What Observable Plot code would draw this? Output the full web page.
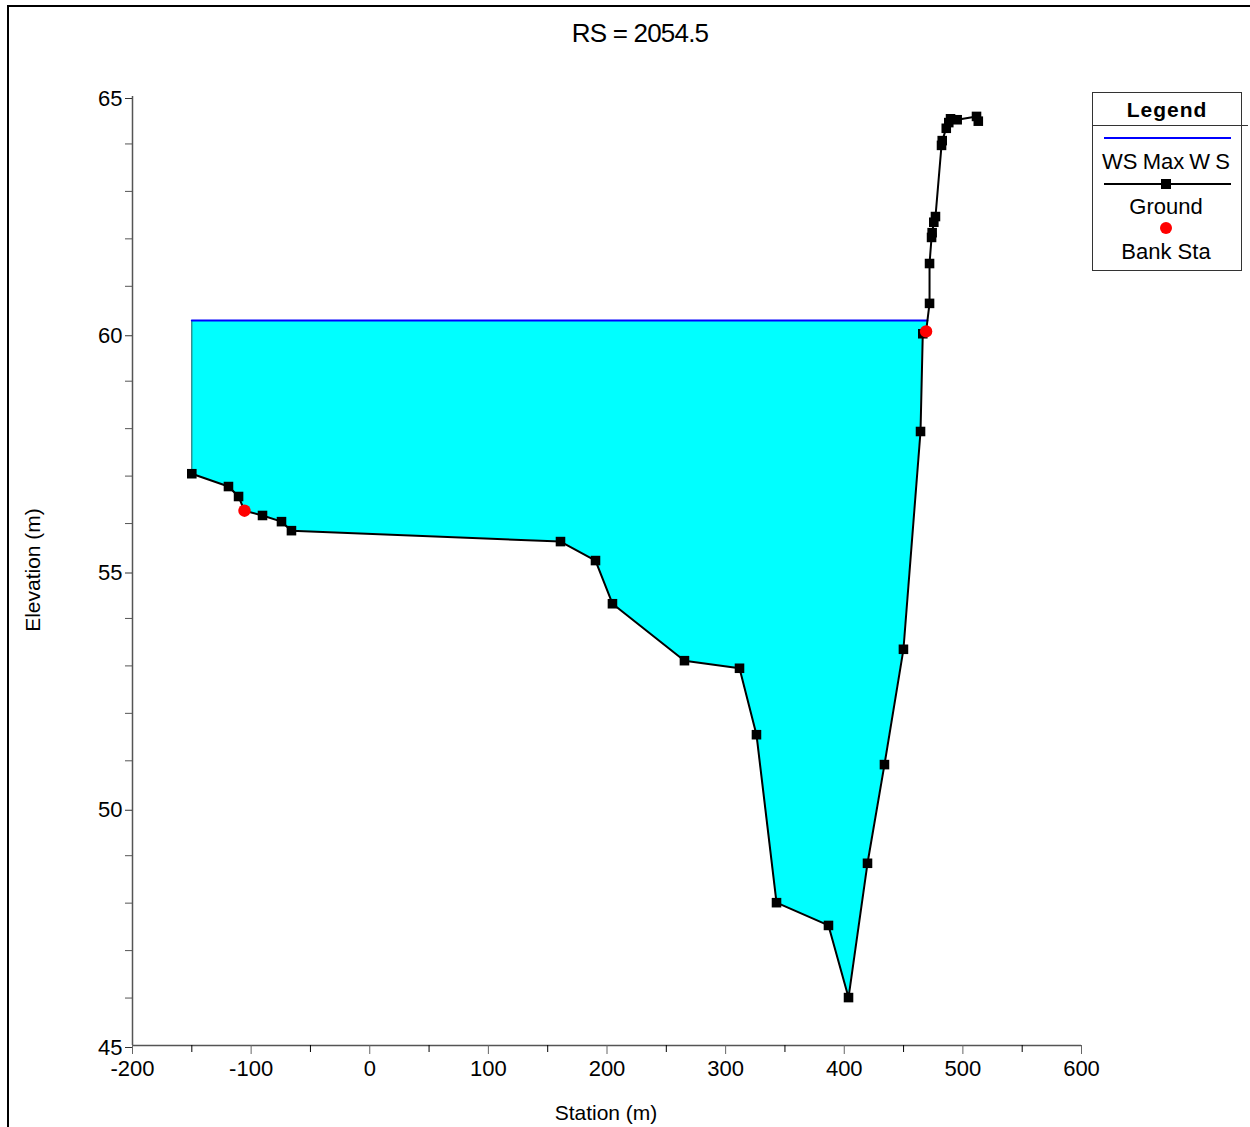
<!DOCTYPE html>
<html>
<head>
<meta charset="utf-8">
<script src="https://cdn.jsdelivr.net/npm/d3@7"></script>
<script src="https://cdn.jsdelivr.net/npm/@observablehq/plot@0.6"></script>
<style>
  html, body { margin: 0; padding: 0; background: #fff; }
  body { font-family: "Liberation Sans", Arial, sans-serif; }
  #wrap { position: relative; width: 1250px; height: 1127px; overflow: hidden; }
  #frame { position: absolute; left: 7px; top: 5px; right: -5px; bottom: -5px; border-top: 2px solid #000; border-left: 2px solid #000; pointer-events: none; }
  #chart { position: absolute; left: 0; top: 0; }
  .txt { position: absolute; color: #000; white-space: nowrap; }
  #title { left: 540px; width: 200px; top: 18px; text-align: center; font-size: 26px; letter-spacing: -0.8px; }
  #xlabel { left: 506px; width: 200px; top: 1101px; text-align: center; font-size: 21px; }
  #ylabel { left: 33px; top: 570px; font-size: 21px; transform: translate(-50%, -50%) rotate(-90deg); }
  #legend { position: absolute; left: 1092px; top: 92px; }
</style>
</head>
<body>
<div id="wrap">
  <div id="chart"></div>
  <div id="frame"></div>
  <div id="title" class="txt">RS = 2054.5</div>
  <div id="xlabel" class="txt">Station (m)</div>
  <div id="ylabel" class="txt">Elevation (m)</div>
  <svg id="legend" width="158" height="182" font-family="Liberation Sans, Arial, sans-serif">
    <rect x="0.5" y="0.5" width="149" height="178" fill="#fff" stroke="#333" stroke-width="1"/>
    <text x="75" y="25" text-anchor="middle" font-size="21" font-weight="bold" letter-spacing="1">Legend</text>
    <line x1="0" x2="156" y1="33.5" y2="33.5" stroke="#333" stroke-width="1"/>
    <line x1="12" x2="139" y1="46" y2="46" stroke="#0000ff" stroke-width="2"/>
    <text x="74" y="77" text-anchor="middle" font-size="22" word-spacing="-1">WS Max W S</text>
    <line x1="12" x2="139" y1="92" y2="92" stroke="#000" stroke-width="2"/>
    <rect x="69" y="87" width="10" height="10" fill="#000"/>
    <text x="74" y="122" text-anchor="middle" font-size="22">Ground</text>
    <circle cx="74" cy="136" r="6" fill="#ff0000"/>
    <text x="74" y="167" text-anchor="middle" font-size="22">Bank Sta</text>
  </svg>
</div>
<script>
// Ground profile (station m, elevation m)
const stations = [-150, -119.1, -110.6, -105.6, -90.4, -74.4, -66, 160.8, 190.3, 204.6, 265.3, 311.7, 326, 342.9, 386.7, 403.6, 419.6, 433.9, 449.9, 464.3, 466.2, 469.0, 471.9, 471.9, 473.6, 474.1, 475.5, 476.9, 482, 482.6, 486, 488.1, 489.6, 495.2, 511.5, 513];
const elevations = [57.05, 56.78, 56.57, 56.27, 56.17, 56.04, 55.85, 55.62, 55.22, 54.31, 53.11, 52.95, 51.55, 48.01, 47.53, 46.01, 48.84, 50.92, 53.35, 57.94, 60.0, 60.05, 60.64, 61.48, 62.03, 62.13, 62.35, 62.47, 63.97, 64.07, 64.33, 64.45, 64.53, 64.51, 64.58, 64.48];
// Bank stations
const bankStations = [-105.6, 469.0];
const bankElevations = [56.27, 60.05];
// Water surface (WS Max WS)
const wsElevation = 60.28;
// Axis ticks
const xTicks = [-200, -100, 0, 100, 200, 300, 400, 500, 600];
const xMinorTicks = [-150, -50, 50, 150, 250, 350, 450, 550];
const yTicks = [45, 50, 55, 60, 65];
const yMinorTicks = d3.range(45, 66).filter(v => v % 5 !== 0);

const ground = stations.map((s, i) => ({x: s, y: elevations[i]}));
const banks = bankStations.map((s, i) => ({x: s, y: bankElevations[i]}));
const groundMarkers = ground.filter(d => !bankStations.includes(d.x));

// find right-side intersection of water surface with ground (after thalweg)
const iMin = d3.minIndex(ground, d => d.y);
let xi = ground[ground.length - 1].x, cut = ground.length;
for (let i = iMin; i < ground.length - 1; i++) {
  const a = ground[i], b = ground[i + 1];
  if (a.y <= wsElevation && b.y > wsElevation) {
    xi = a.x + (wsElevation - a.y) / (b.y - a.y) * (b.x - a.x);
    cut = i + 1;
    break;
  }
}
const water = ground.slice(0, cut).concat([{x: xi, y: wsElevation}]);
const wsLine = [{x: ground[0].x, y: wsElevation}, {x: xi, y: wsElevation}];

const chart = Plot.plot({
  width: 1250,
  height: 1127,
  marginLeft: 132,
  marginRight: 169,
  marginTop: 96,
  marginBottom: 82,
  style: {fontFamily: "Liberation Sans, Arial, sans-serif", background: "transparent"},
  x: {domain: [-200, 600]},
  y: {domain: [45, 65]},
  marks: [
    Plot.areaY(water, {x: "x", y1: "y", y2: wsElevation, fill: "#00ffff", curve: "linear"}),
    Plot.ruleX([ground[0]], {x: "x", y1: "y", y2: wsElevation, stroke: "#2f5f5f", strokeWidth: 1}),
    Plot.line(wsLine, {x: "x", y: "y", stroke: "#0000ff", strokeWidth: 2}),
    Plot.line(ground, {x: "x", y: "y", stroke: "#000", strokeWidth: 2}),
    Plot.dot(groundMarkers, {x: "x", y: "y", symbol: "square", r: 5.4, fill: "#000", stroke: "none"}),
    Plot.dot(banks, {x: "x", y: "y", r: 6.2, fill: "#ff0000", stroke: "none"}),
    Plot.ruleY([45], {stroke: "#555", strokeWidth: 1.5}),
    Plot.ruleX([-200], {stroke: "#555", strokeWidth: 1.5}),
    Plot.axisX(xTicks, {tickSize: 9, tickPadding: 6, fontSize: 22, stroke: "#666", label: null, fill: "#000", tickFormat: d => String(d)}),
    Plot.axisX(xMinorTicks, {tickSize: 7, text: null, stroke: "#000", label: null}),
    Plot.axisY(yTicks, {tickSize: 7, tickPadding: 3, fontSize: 22, stroke: "#333", label: null, fill: "#000", dy: 2, tickFormat: d => String(d)}),
    Plot.axisY(yMinorTicks, {tickSize: 7, text: null, stroke: "#555", label: null})
  ]
});
document.getElementById("chart").appendChild(chart);
</script>
</body>
</html>
